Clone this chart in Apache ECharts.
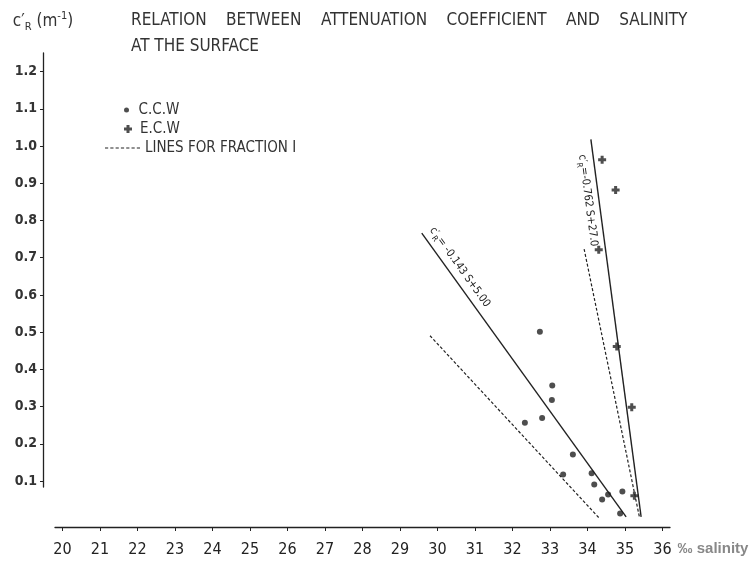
<!DOCTYPE html>
<html><head><meta charset="utf-8">
<script src="https://cdn.jsdelivr.net/npm/echarts@6/dist/echarts.min.js"></script>
<style>html,body{margin:0;padding:0;background:#fff}#c{width:753px;height:562px}</style>
</head><body><div id="c"></div>
<script>
// ---- data ----
const xTicks = [20,21,22,23,24,25,26,27,28,29,30,31,32,33,34,35,36];
const yTicks = [0.1,0.2,0.3,0.4,0.5,0.6,0.7,0.8,0.9,1.0,1.1,1.2];

const ccwSalinity = [32.73,33.06,33.05,32.79,32.33,33.61,33.35,34.11,34.18,34.55,34.39,34.93,34.87];
const ccwC        = [0.501,0.356,0.317,0.269,0.256,0.171,0.117,0.120,0.090,0.063,0.050,0.071,0.012];

const ecwSalinity = [34.39,34.75,34.30,34.78,35.18,35.25];
const ecwC        = [0.963,0.882,0.721,0.461,0.298,0.060];

const ccwLineS = [29.58, 35.03];  const ccwLineC = [0.766, 0.003];
const ecwLineS = [34.09, 35.43];  const ecwLineC = [1.018, 0.003];
const ccwFracS = [29.80, 34.31];  const ccwFracC = [0.490, 0.0];
const ecwFracS = [33.91, 35.39];  const ecwFracC = [0.723, 0.0];

const ccwLabel = '= -0.143 S+5.00';
const ecwLabel = '=-0.762 S+27.0';

// ---- chart ----
const FONT = "'DejaVu Sans Condensed','Liberation Sans Narrow',sans-serif";
const INK = '#222';
const zip = (a, b) => a.map((v, i) => [v, b[i]]);
const PLUS = 'path://M2.5,0H5.5V2.5H8V5.5H5.5V8H2.5V5.5H0V2.5H2.5Z';
// dashed-line legend icon (7 dashes)
let dashPath = 'path://';
for (let i = 0; i < 7; i++) dashPath += 'M' + (i * 5) + ',0h3v1h-3z';

function fitLabel(txt, pos, dist) {
  return {
    show: true, position: pos, distance: dist,
    formatter: '{c|c′}{s|R}{c|' + txt + '}',
    rich: {
      c: {fontFamily: FONT, fontSize: 11, color: INK, lineHeight: 16, verticalAlign: 'middle'},
      s: {fontFamily: FONT, fontSize: 8, color: INK, lineHeight: 16, verticalAlign: 'bottom'}
    }
  };
}

const chart = echarts.init(document.getElementById('c'), null, {renderer: 'canvas'});
chart.setOption({
  backgroundColor: '#fff',
  animation: false,
  title: {
    text: 'RELATION    BETWEEN    ATTENUATION    COEFFICIENT    AND    SALINITY\nAT THE SURFACE',
    left: 131, top: 8, padding: 0,
    textStyle: {fontFamily: FONT, fontSize: 17, fontWeight: 'normal', color: '#333', lineHeight: 26}
  },
  legend: [
    {data: [{name: 'C.C.W', icon: 'circle'}], left: 124, top: 102, padding: 0, itemWidth: 14, itemHeight: 5,
     textStyle: {fontFamily: FONT, fontSize: 15, color: '#333', lineHeight: 16}, selectedMode: false},
    {data: [{name: 'E.C.W', icon: PLUS}], left: 124, top: 121, padding: 0, itemWidth: 14, itemHeight: 8,
     textStyle: {fontFamily: FONT, fontSize: 15, color: '#333', lineHeight: 16}, selectedMode: false},
    {data: [{name: 'LINES FOR FRACTION I', icon: dashPath}], left: 105, top: 140, padding: 0, itemWidth: 35, itemHeight: 1.2,
     itemStyle: {color: INK}, textStyle: {fontFamily: FONT, fontSize: 15, color: '#333', lineHeight: 16}, selectedMode: false}
  ],
  grid: [
    {left: 55, right: 83, top: 53, bottom: 44, containLabel: false, outerBoundsMode: 'none'},
    {left: 55, right: 83, top: 53, bottom: 75, containLabel: false, outerBoundsMode: 'none'}
  ],
  xAxis: [{
    gridIndex: 0, type: 'value', min: 19.8, max: 36.2, offset: 9,
    axisLine: {show: true, onZero: false, lineStyle: {color: INK, width: 1.3}},
    axisTick: {show: true, customValues: xTicks, length: 4, inside: false, lineStyle: {color: INK}},
    axisLabel: {customValues: xTicks, margin: 15, fontFamily: FONT, fontSize: 16, color: INK},
    splitLine: {show: false},
    name: '‰ salinity', nameLocation: 'end', nameGap: 3,
    nameTextStyle: {fontFamily: "'Liberation Sans',sans-serif", fontSize: 15, fontWeight: 'bold', color: '#888',
                    verticalAlign: 'top', lineHeight: 44, align: 'left'}
  }, {
    gridIndex: 1, type: 'value', min: 19.8, max: 36.2, show: false
  }],
  yAxis: [{
    gridIndex: 0, type: 'value', min: 0, max: 1.25, show: false
  }, {
    gridIndex: 1, type: 'value', min: 0.084, max: 1.25, offset: 12,
    axisLine: {show: true, onZero: false, lineStyle: {color: INK, width: 1.3}},
    axisTick: {show: true, customValues: yTicks, length: 3, lineStyle: {color: INK}},
    axisLabel: {customValues: yTicks, margin: 6, fontFamily: FONT, fontSize: 14, fontWeight: 'bold', color: '#333',
                formatter: v => v.toFixed(1)},
    splitLine: {show: false},
    name: '{c|c′}{s|R}{c| (m}{p|-1}{c|)}', nameLocation: 'end', nameGap: 20,
    nameTextStyle: {
      rich: {
        c: {fontFamily: FONT, fontSize: 17, color: '#333', lineHeight: 22, verticalAlign: 'middle'},
        s: {fontFamily: FONT, fontSize: 11, color: '#333', lineHeight: 22, verticalAlign: 'bottom'},
        p: {fontFamily: FONT, fontSize: 11, color: '#333', lineHeight: 22, verticalAlign: 'top'}
      }
    }
  }],
  series: [
    {name: 'C.C.W', type: 'scatter', data: zip(ccwSalinity, ccwC), symbol: 'circle', symbolSize: 6,
     itemStyle: {color: INK}, clip: false, z: 5},
    {name: 'E.C.W', type: 'scatter', data: zip(ecwSalinity, ecwC), symbol: PLUS, symbolSize: 8,
     itemStyle: {color: INK}, clip: false, z: 5},
    {name: 'C.C.W fit', type: 'line', data: zip(ccwLineS, ccwLineC), symbol: 'none', clip: false,
     lineStyle: {color: INK, width: 1.4},
     markLine: {symbol: 'none', silent: true, lineStyle: {color: 'rgba(0,0,0,0)', width: 1},
       label: fitLabel(ccwLabel, 'insideStartTop', [2, 3]),
       data: [[{coord: [ccwLineS[0], ccwLineC[0]]}, {coord: [ccwLineS[1], ccwLineC[1]]}]]}},
    {name: 'E.C.W fit', type: 'line', data: zip(ecwLineS, ecwLineC), symbol: 'none', clip: false,
     lineStyle: {color: INK, width: 1.4},
     markLine: {symbol: 'none', silent: true, lineStyle: {color: 'rgba(0,0,0,0)', width: 1},
       label: fitLabel(ecwLabel, 'insideStartBottom', [14, 3]),
       data: [[{coord: [ecwLineS[0], ecwLineC[0]]}, {coord: [ecwLineS[1], ecwLineC[1]]}]]}},
    {name: 'LINES FOR FRACTION I', type: 'line', data: zip(ccwFracS, ccwFracC), symbol: 'none', clip: false,
     lineStyle: {color: INK, width: 1.2, type: [3, 2]}, itemStyle: {color: INK}},
    {name: 'LINES FOR FRACTION I', type: 'line', data: zip(ecwFracS, ecwFracC), symbol: 'none', clip: false,
     lineStyle: {color: INK, width: 1.2, type: [3, 2]}, itemStyle: {color: INK}}
  ]
});
</script></body></html>
